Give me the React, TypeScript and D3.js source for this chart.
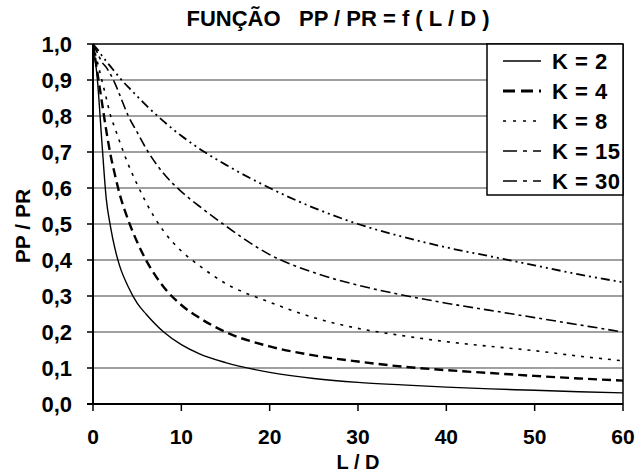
import React from "react";
import * as d3 from "d3";

const xs = [0, 0.5, 1, 1.5, 2, 2.5, 3, 4, 5, 6, 8, 10, 12, 15, 20, 25, 30, 35, 40, 45, 50, 55, 60];
const k2 = [1.0, 0.9, 0.73, 0.57, 0.49, 0.43, 0.385, 0.325, 0.28, 0.25, 0.2, 0.165, 0.14, 0.115, 0.088, 0.071, 0.06, 0.053, 0.047, 0.042, 0.038, 0.034, 0.031];
const k4 = [1.0, 0.92, 0.84, 0.76, 0.69, 0.635, 0.585, 0.51, 0.45, 0.4, 0.325, 0.275, 0.24, 0.2, 0.16, 0.135, 0.118, 0.104, 0.094, 0.086, 0.078, 0.071, 0.065];
const k8 = [1.0, 0.95, 0.9, 0.85, 0.8, 0.765, 0.73, 0.665, 0.61, 0.56, 0.48, 0.425, 0.385, 0.335, 0.283, 0.24, 0.21, 0.19, 0.173, 0.16, 0.148, 0.133, 0.12];
const k15 = [1.0, 0.975, 0.95, 0.935, 0.915, 0.89, 0.86, 0.8, 0.755, 0.71, 0.64, 0.59, 0.55, 0.495, 0.415, 0.365, 0.33, 0.303, 0.28, 0.26, 0.24, 0.22, 0.2];
const k30 = [1.0, 0.985, 0.968, 0.952, 0.937, 0.922, 0.907, 0.88, 0.855, 0.83, 0.785, 0.745, 0.71, 0.665, 0.6, 0.545, 0.5, 0.465, 0.435, 0.41, 0.385, 0.36, 0.338];

const seriesNames = ["K = 2", "K = 4", "K = 8", "K = 15", "K = 30"];
const seriesValues = [k2, k4, k8, k15, k30];
const dashes = ["", "9,5", "3,6", "10,4,3,4", "9,4,2,4,2,4"];
const widths = [1.4, 2.4, 1.6, 1.6, 1.8];
const legendWidths = [1.4, 3, 1.4, 1.6, 1.6];
const legendDashes = ["", "12,6", "3,7", "14,6,4,6", "14,6,4,6"];

const xTicks = [0, 10, 20, 30, 40, 50, 60];
const yTicks = [0, 0.1, 0.2, 0.3, 0.4, 0.5, 0.6, 0.7, 0.8, 0.9, 1.0];

const W = 636, H = 473;
const L = 93, R = 623, T = 44, B = 404;
const FONT = "'Liberation Sans', Arial, sans-serif";
const FS = 22;

export default function App() {
  const x = d3.scaleLinear().domain([0, 60]).range([L, R]);
  const y = d3.scaleLinear().domain([0, 1]).range([B, T]);
  const line = d3
    .line<number>()
    .x((_, i) => x(xs[i]))
    .y((v) => y(v))
    .curve(d3.curveMonotoneX);

  return (
    <svg width={W} height={H} style={{ position: "absolute", left: 0, top: 0, background: "#fff" }}>
      <rect x={0} y={0} width={W} height={H} fill="#fff" />
      {/* gridlines */}
      {yTicks.filter((t) => t > 0 && t < 1).map((t) => (
        <line key={"g" + t} x1={L} x2={R} y1={y(t)} y2={y(t)} stroke="#a0a0a0" strokeWidth={2} />
      ))}
      {/* plot border */}
      <line x1={L} x2={R} y1={T} y2={T} stroke="#000" strokeWidth={1.5} />
      <line x1={R} x2={R} y1={T} y2={B} stroke="#000" strokeWidth={1.5} />
      {/* curves */}
      {seriesValues.map((vals, i) => (
        <path
          key={"s" + i}
          d={line(vals) || ""}
          fill="none"
          stroke="#000"
          strokeWidth={widths[i]}
          strokeDasharray={dashes[i] || undefined}
        />
      ))}
      {/* axes */}
      <line x1={L} x2={L} y1={T} y2={B + 1} stroke="#000" strokeWidth={2} />
      <line x1={L - 6} x2={R} y1={B} y2={B} stroke="#000" strokeWidth={2} />
      {yTicks.map((t) => (
        <g key={"yt" + t}>
          <line x1={L - 6} x2={L} y1={y(t)} y2={y(t)} stroke="#000" strokeWidth={1.5} />
          <text
            x={72}
            y={y(t) + 7.5}
            textAnchor="end"
            fontFamily={FONT}
            fontWeight="bold"
            fontSize={FS}
            fill="#000"
          >
            {t.toFixed(1).replace(".", ",")}
          </text>
        </g>
      ))}
      {xTicks.map((t) => (
        <g key={"xt" + t}>
          <line x1={x(t)} x2={x(t)} y1={B} y2={B + 7} stroke="#000" strokeWidth={1.5} />
          <text
            x={x(t)}
            y={444}
            textAnchor="middle"
            fontFamily={FONT}
            fontWeight="bold"
            fontSize={21}
            fill="#000"
          >
            {t}
          </text>
        </g>
      ))}
      {/* titles */}
      <text x={338} y={26} textAnchor="middle" fontFamily={FONT} fontWeight="bold" fontSize={FS} fill="#000" style={{ whiteSpace: "pre" }}>
        {"FUNÇÃO   PP / PR = f ( L / D )"}
      </text>
      <text x={358} y={469} textAnchor="middle" fontFamily={FONT} fontWeight="bold" fontSize={20} fill="#000">
        L / D
      </text>
      <text
        transform={`translate(30, ${(T + B) / 2 + 2}) rotate(-90)`}
        textAnchor="middle"
        fontFamily={FONT}
        fontWeight="bold"
        fontSize={21}
        fill="#000"
      >
        PP / PR
      </text>
      {/* legend */}
      <rect x={487} y={T} width={R - 487} height={151} fill="#fff" stroke="#000" strokeWidth={1.5} />
      {seriesNames.map((n, i) => {
        const ly = 61 + i * 30;
        return (
          <g key={"l" + i}>
            <line
              x1={503}
              x2={541}
              y1={ly}
              y2={ly}
              stroke="#000"
              strokeWidth={legendWidths[i]}
              strokeDasharray={legendDashes[i] || undefined}
            />
            <text x={552} y={ly + 8} fontFamily={FONT} fontWeight="bold" fontSize={FS} letterSpacing={0.5} fill="#000">
              {n}
            </text>
          </g>
        );
      })}
    </svg>
  );
}
